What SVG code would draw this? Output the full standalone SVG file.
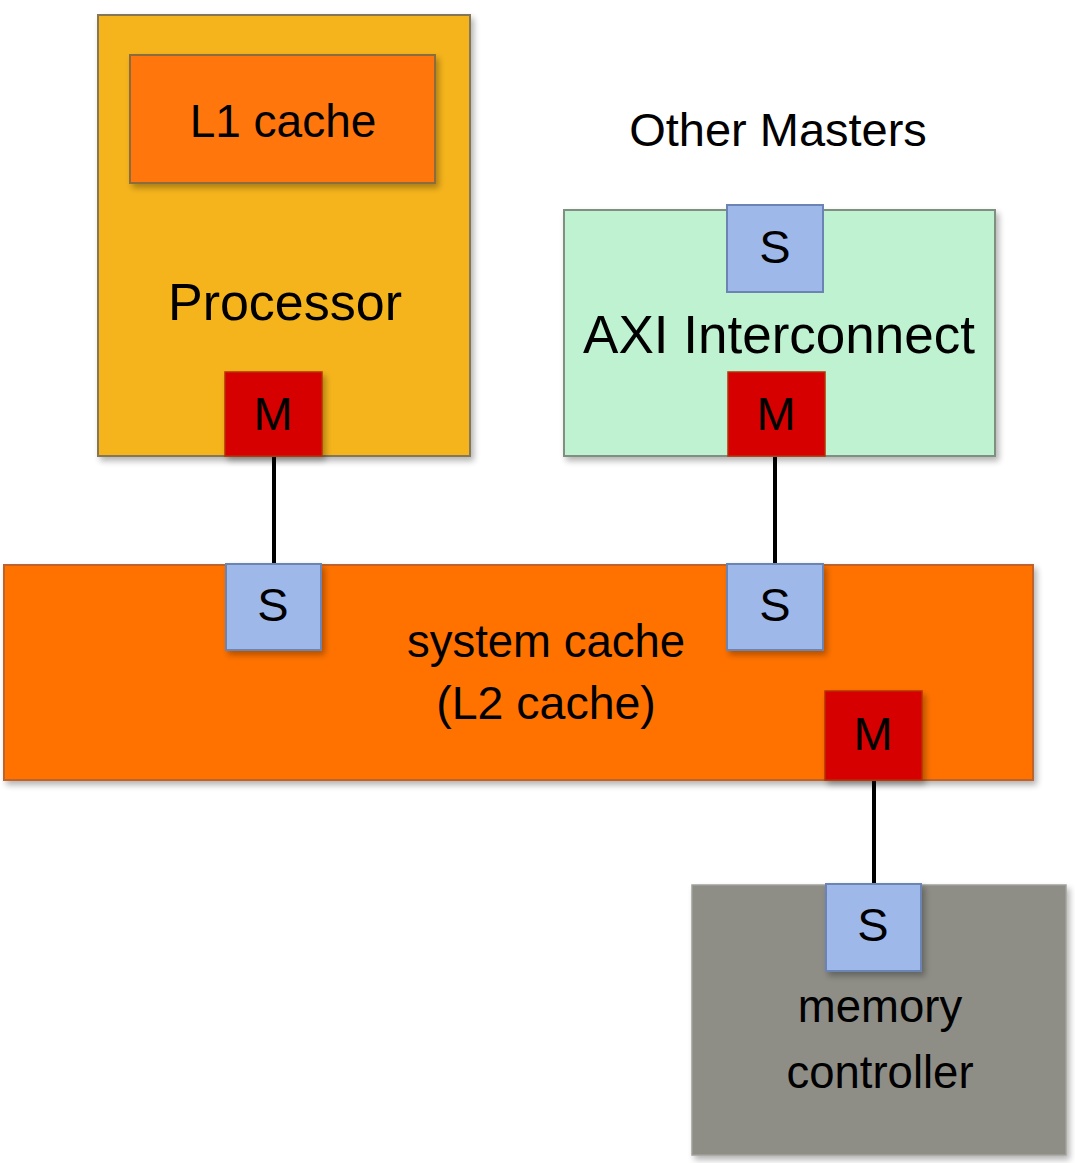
<svg xmlns="http://www.w3.org/2000/svg" width="1075" height="1163" viewBox="0 0 1075 1163">
<defs>
<filter id="sh" x="-10%" y="-10%" width="130%" height="130%">
<feGaussianBlur in="SourceAlpha" stdDeviation="3"/>
<feOffset dx="3" dy="4" result="b"/>
<feComponentTransfer><feFuncA type="linear" slope="0.3"/></feComponentTransfer>
<feMerge><feMergeNode/><feMergeNode in="SourceGraphic"/></feMerge>
</filter>
</defs>
<style>
text{font-family:"Liberation Sans",Arial,sans-serif;fill:#000;text-anchor:middle}
.s rect{fill:#9EB8EA;stroke:#6C84B4;stroke-width:2}
.m rect{fill:#D60000;stroke:#B83000;stroke-width:1.5}
.port text{font-size:47px}
.conn line{stroke:#000;stroke-width:4}
</style>
<rect width="1075" height="1163" fill="#fff"/>
<g class="conn">
<line x1="274" y1="456" x2="274" y2="565"/>
<line x1="775" y1="456" x2="775" y2="565"/>
<line x1="874" y1="780" x2="874" y2="885"/>
</g>
<g id="processor">
<rect x="98" y="15" width="372" height="441" fill="#F5B41F" stroke="#857657" stroke-width="2" filter="url(#sh)"/>
<text x="285" y="320" font-size="52">Processor</text>
</g>
<g id="l1cache">
<rect x="130" y="55" width="305" height="128" fill="#FF760F" stroke="#8A6C3C" stroke-width="2" filter="url(#sh)"/>
<text x="283" y="137" font-size="46">L1 cache</text>
</g>
<g id="processor-m" class="port m">
<rect x="225" y="372" width="97" height="84" filter="url(#sh)"/>
<text x="273" y="430">M</text>
</g>
<g id="other-masters">
<text x="778" y="146" font-size="47">Other Masters</text>
</g>
<g id="axi">
<rect x="564" y="210" width="431" height="246" fill="#BEF2D0" stroke="#7F8F80" stroke-width="2" filter="url(#sh)"/>
<text x="779" y="353" font-size="53">AXI Interconnect</text>
</g>
<g id="axi-s" class="port s">
<rect x="727" y="205" width="96" height="87"/>
<text x="775" y="263">S</text>
</g>
<g id="axi-m" class="port m">
<rect x="728" y="372" width="97" height="84"/>
<text x="776" y="430">M</text>
</g>
<g id="system-cache">
<rect x="4" y="565" width="1029" height="215" fill="#FF7200" stroke="#C0642A" stroke-width="2" filter="url(#sh)"/>
<text x="546" y="657" font-size="45.5">system cache</text>
<text x="546" y="719" font-size="46.5">(L2 cache)</text>
</g>
<g id="sc-s1" class="port s">
<rect x="226" y="564" width="95" height="86" filter="url(#sh)"/>
<text x="273" y="621">S</text>
</g>
<g id="sc-s2" class="port s">
<rect x="727" y="564" width="96" height="86" filter="url(#sh)"/>
<text x="775" y="621">S</text>
</g>
<g id="sc-m" class="port m">
<rect x="825" y="691" width="97" height="89" filter="url(#sh)"/>
<text x="873" y="750">M</text>
</g>
<g id="memory-controller">
<rect x="692" y="885" width="374" height="270" fill="#8E8E87" stroke="#A0A09A" stroke-width="1.5" filter="url(#sh)"/>
<text x="880" y="1022" font-size="45.5">memory</text>
<text x="880" y="1088" font-size="45.5">controller</text>
</g>
<g id="mc-s" class="port s">
<rect x="826" y="884" width="95" height="87" filter="url(#sh)"/>
<text x="873" y="941">S</text>
</g>
</svg>
